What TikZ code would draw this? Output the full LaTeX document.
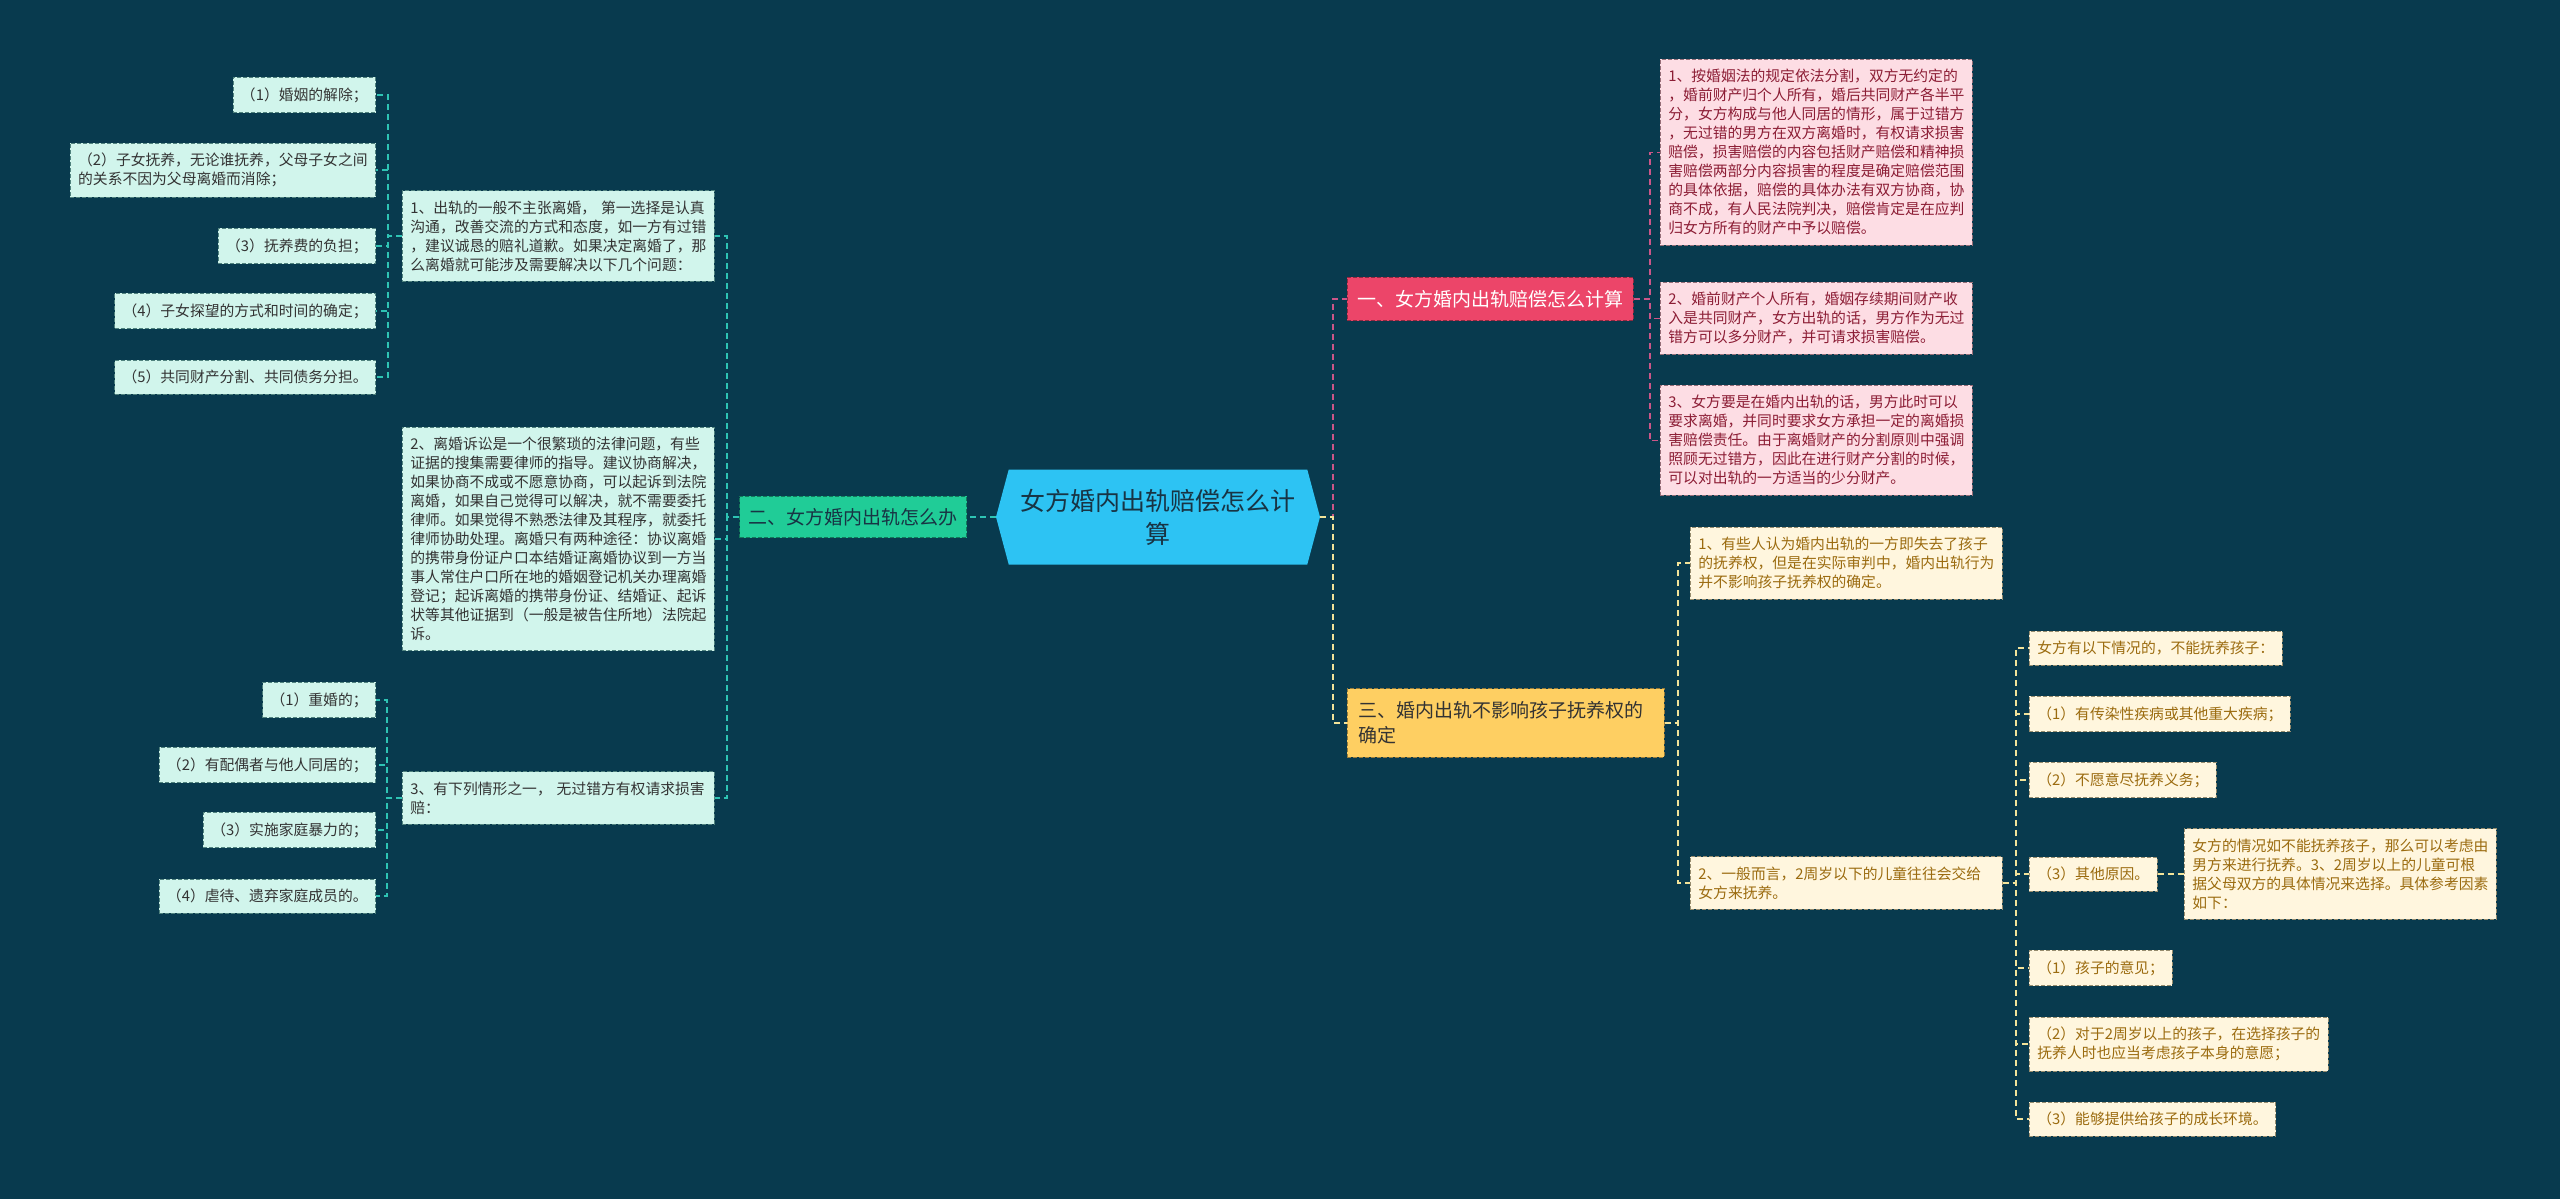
\documentclass[tikz,border=0pt]{standalone}
\usepackage{fontspec}
\newfontfamily\cjk{Noto Sans CJK SC}
\usetikzlibrary{shapes.symbols}

\definecolor{bgblue}{RGB}{8,58,78}
\definecolor{ctrfill}{RGB}{45,195,243}
\definecolor{ctrtext}{RGB}{24,52,68}
\definecolor{erfill}{RGB}{32,204,151}
\definecolor{tealline}{RGB}{46,196,180}
\definecolor{tealfill}{RGB}{209,245,236}
\definecolor{tealedge}{RGB}{80,130,126}
\definecolor{yifill}{RGB}{236,69,105}
\definecolor{pinkline}{RGB}{204,86,136}
\definecolor{pinkfill}{RGB}{253,221,228}
\definecolor{pinkedge}{RGB}{150,110,120}
\definecolor{pinktext}{RGB}{140,29,53}
\definecolor{sanfill}{RGB}{254,207,98}
\definecolor{yelline}{RGB}{242,227,154}
\definecolor{yelfill}{RGB}{255,246,222}
\definecolor{yeledge}{RGB}{150,140,110}
\definecolor{yeltext}{RGB}{155,107,15}

\begin{document}
\begin{tikzpicture}[x=1pt,y=1pt,yscale=-1,
  every node/.style={font=\cjk},
  tline/.style={draw=tealline, line width=1.6pt, dash pattern=on 6pt off 4pt},
  pline/.style={draw=pinkline, line width=1.6pt, dash pattern=on 6pt off 4pt},
  yline/.style={draw=yelline, line width=1.6pt, dash pattern=on 6pt off 4pt},
  leafbox/.style={line width=0.8pt, dash pattern=on 4pt off 2pt, inner xsep=8pt, inner ysep=10pt, align=left, font=\cjk\fontsize{14.8}{19}\selectfont},
  tleaf/.style={leafbox, draw=tealedge, fill=tealfill, text=black!80},
  pleaf/.style={leafbox, draw=pinkedge, fill=pinkfill, text=pinktext},
  yleaf/.style={leafbox, draw=yeledge, fill=yelfill, text=yeltext},
  branch/.style={line width=0.8pt, dash pattern=on 4pt off 2pt, inner xsep=10pt, inner ysep=13pt, align=left, font=\cjk\fontsize{19}{25}\selectfont}
]
\useasboundingbox (0,0) rectangle (2560,1199);
\fill [bgblue] (0,0) rectangle (2560,1199);

% Centre
\node (ctr) [signal, signal to=west and east, signal pointer angle=150, fill=ctrfill, text=ctrtext, minimum width=324pt, minimum height=95pt, inner sep=0pt, align=center, font=\cjk\fontsize{25}{33}\selectfont] at (1158,517) {女方婚内出轨赔偿怎么计\\算};

% Text Node
\node (er) [branch, anchor=east, draw=erfill!60!black, fill=erfill, text=ctrtext, inner xsep=9pt, inner ysep=12pt] at (967,517) {二、女方婚内出轨怎么办};
% Text Node
\node (yi) [branch, anchor=west, draw=yifill!60!black, fill=yifill, text=white] at (1347,299) {一、女方婚内出轨赔偿怎么计算};
% Text Node
\node (san) [branch, anchor=west, draw=sanfill!60!black, fill=sanfill, text=black!80, text width=295pt, inner xsep=11pt] at (1347,723) {三、婚内出轨不影响孩子抚养权的\\确定};

% Left side
\node (m1) [tleaf, anchor=west, text width=296pt] at (402,236) {1、出轨的一般不主张离婚， 第一选择是认真\\沟通，改善交流的方式和态度，如一方有过错\\，建议诚恳的赔礼道歉。如果决定离婚了，那\\么离婚就可能涉及需要解决以下几个问题：};
\node (m2) [tleaf, anchor=west, text width=296pt] at (402,539) {2、离婚诉讼是一个很繁琐的法律问题，有些\\证据的搜集需要律师的指导。建议协商解决，\\如果协商不成或不愿意协商，可以起诉到法院\\离婚，如果自己觉得可以解决，就不需要委托\\律师。如果觉得不熟悉法律及其程序，就委托\\律师协助处理。离婚只有两种途径：协议离婚\\的携带身份证户口本结婚证离婚协议到一方当\\事人常住户口所在地的婚姻登记机关办理离婚\\登记；起诉离婚的携带身份证、结婚证、起诉\\状等其他证据到（一般是被告住所地）法院起\\诉。};
\node (m3) [tleaf, anchor=west, text width=296pt] at (402,798) {3、有下列情形之一， 无过错方有权请求损害\\赔：};

\node (l1) [tleaf, anchor=east] at (376,95) {（1）婚姻的解除；};
\node (l2) [tleaf, anchor=east] at (376,170) {（2）子女抚养，无论谁抚养，父母子女之间\\的关系不因为父母离婚而消除；};
\node (l3) [tleaf, anchor=east] at (376,246) {（3）抚养费的负担；};
\node (l4) [tleaf, anchor=east] at (376,311) {（4）子女探望的方式和时间的确定；};
\node (l5) [tleaf, anchor=east] at (376,377) {（5）共同财产分割、共同债务分担。};

\node (n1) [tleaf, anchor=east] at (376,700) {（1）重婚的；};
\node (n2) [tleaf, anchor=east] at (376,765) {（2）有配偶者与他人同居的；};
\node (n3) [tleaf, anchor=east] at (376,830) {（3）实施家庭暴力的；};
\node (n4) [tleaf, anchor=east] at (376,896) {（4）虐待、遗弃家庭成员的。};

% Right side, pink
\node (p1) [pleaf, anchor=north west, text width=296pt] at (1660,59) {1、按婚姻法的规定依法分割，双方无约定的\\，婚前财产归个人所有，婚后共同财产各半平\\分，女方构成与他人同居的情形，属于过错方\\，无过错的男方在双方离婚时，有权请求损害\\赔偿，损害赔偿的内容包括财产赔偿和精神损\\害赔偿两部分内容损害的程度是确定赔偿范围\\的具体依据，赔偿的具体办法有双方协商，协\\商不成，有人民法院判决，赔偿肯定是在应判\\归女方所有的财产中予以赔偿。};
\node (p2) [pleaf, anchor=north west, text width=296pt] at (1660,282) {2、婚前财产个人所有，婚姻存续期间财产收\\入是共同财产，女方出轨的话，男方作为无过\\错方可以多分财产，并可请求损害赔偿。};
\node (p3) [pleaf, anchor=north west, text width=296pt] at (1660,385) {3、女方要是在婚内出轨的话，男方此时可以\\要求离婚，并同时要求女方承担一定的离婚损\\害赔偿责任。由于离婚财产的分割原则中强调\\照顾无过错方，因此在进行财产分割的时候，\\可以对出轨的一方适当的少分财产。};

% Right side, yellow
\node (y1) [yleaf, anchor=west, text width=296pt] at (1690,563) {1、有些人认为婚内出轨的一方即失去了孩子\\的抚养权，但是在实际审判中，婚内出轨行为\\并不影响孩子抚养权的确定。};
\node (y2) [yleaf, anchor=west, text width=296pt] at (1690,883) {2、一般而言，2周岁以下的儿童往往会交给\\女方来抚养。};

\node (z1) [yleaf, anchor=west] at (2029,648) {女方有以下情况的，不能抚养孩子：};
\node (z2) [yleaf, anchor=west] at (2029,714) {（1）有传染性疾病或其他重大疾病；};
\node (z3) [yleaf, anchor=west] at (2029,780) {（2）不愿意尽抚养义务；};
\node (z4) [yleaf, anchor=west] at (2029,874) {（3）其他原因。};
\node (w) [yleaf, anchor=west, text width=296pt] at (2184,874) {女方的情况如不能抚养孩子，那么可以考虑由\\男方来进行抚养。3、2周岁以上的儿童可根\\据父母双方的具体情况来选择。具体参考因素\\如下：};
\node (z5) [yleaf, anchor=west] at (2029,968) {（1）孩子的意见；};
\node (z6) [yleaf, anchor=west] at (2029,1044) {（2）对于2周岁以上的孩子，在选择孩子的\\抚养人时也应当考虑孩子本身的意愿；};
\node (z7) [yleaf, anchor=west] at (2029,1119) {（3）能够提供给孩子的成长环境。};

% Connectors
\draw [tline] (ctr.west) -- (er.east);
\foreach \m in {m1,m2,m3}
  \draw [tline] (er.west) -- ++(-12,0) |- (\m.east);
\foreach \l in {l1,l2,l3,l4,l5}
  \draw [tline] (m1.west) -- ++(-14,0) |- (\l.east);
\foreach \n in {n1,n2,n3,n4}
  \draw [tline] (m3.west) -- ++(-15,0) |- (\n.east);

\draw [pline] (ctr.east) -- ++(13,0) |- (yi.west);
\foreach \p in {p1,p2,p3}
  \draw [pline] (yi.east) -- ++(16,0) |- (\p.west);

\draw [yline] (ctr.east) -- ++(13,0) |- (san.west);
\foreach \y in {y1,y2}
  \draw [yline] (san.east) -- ++(13,0) |- (\y.west);
\foreach \z in {z1,z2,z3,z4,z5,z6,z7}
  \draw [yline] (y2.east) -- ++(13,0) |- (\z.west);
\draw [yline] (z4.east) -- (w.west);

\end{tikzpicture}
\end{document}
